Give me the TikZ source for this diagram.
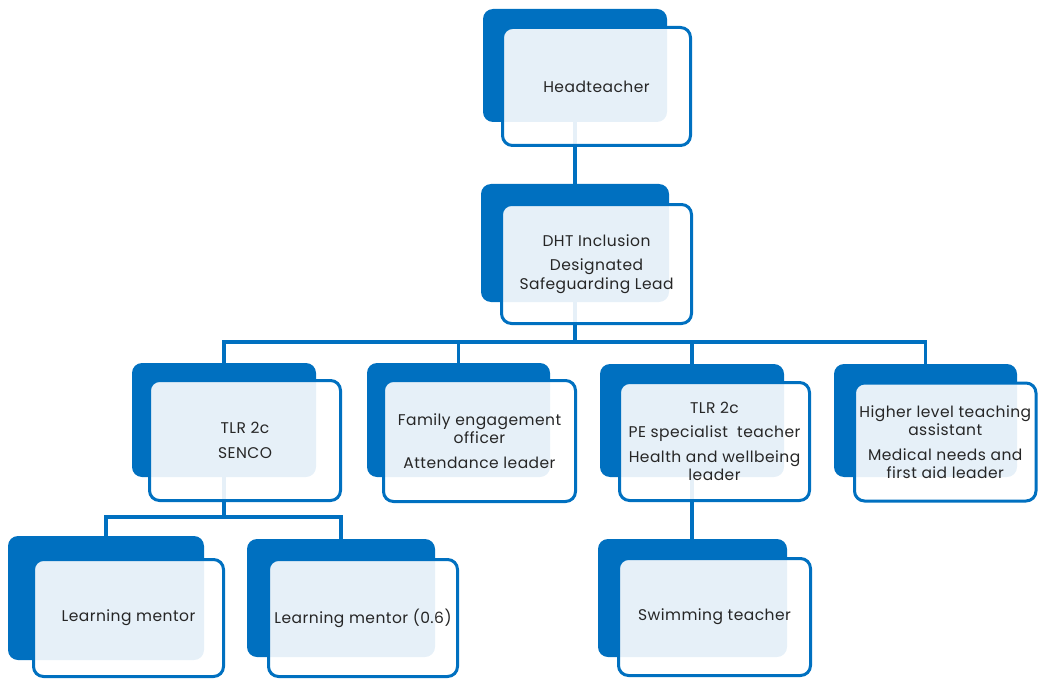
\documentclass[tikz,border=0pt]{standalone}
\usepackage{fontspec}
\setmainfont[LetterSpace=3]{Poppins}
\definecolor{orgblue}{HTML}{0070C0}
\definecolor{orgtext}{HTML}{262626}
\pgfdeclarelayer{links}
\pgfdeclarelayer{backs}
\pgfsetlayers{links,backs,main}
\begin{document}
\begin{tikzpicture}[x=1pt,y=-1pt,
  backbox/.style={rectangle, fill=orgblue, rounded corners=10pt, inner sep=0pt, outer sep=0pt},
  frontbox/.style={rectangle, draw=orgblue, line width=3pt, fill=white, fill opacity=0.9,
    text opacity=1, rounded corners=10pt, inner sep=0pt, align=center, text=orgtext,
    font=\fontsize{15.5}{18.5}\selectfont},
  link/.style={draw=orgblue, line width=3.2pt}]
\useasboundingbox (0,0) rectangle (1038,679);

% dark back plates
\begin{pgfonlayer}{backs}
\node[backbox, minimum width=184pt, minimum height=113pt] (hB)  at (575,65.5) {};
\node[backbox, minimum width=188pt, minimum height=118pt] (dB)  at (575,243) {};
\node[backbox, minimum width=184pt, minimum height=114pt] (sB)  at (224,420) {};
\node[backbox, minimum width=183pt, minimum height=114pt] (fB)  at (458.5,420) {};
\node[backbox, minimum width=184pt, minimum height=113pt] (pB)  at (692,420.5) {};
\node[backbox, minimum width=183pt, minimum height=113pt] (gB)  at (925.5,420.5) {};
\node[backbox, minimum width=196pt, minimum height=124pt] (lB)  at (106,598) {};
\node[backbox, minimum width=188pt, minimum height=118pt] (mB)  at (341,598) {};
\node[backbox, minimum width=189pt, minimum height=118pt] (wB)  at (692.5,598) {};
\end{pgfonlayer}

% translucent front cards with the role texts
\node[frontbox, minimum width=188pt, minimum height=118pt] (hF) at (596.5,86.5) {Headteacher};
\node[frontbox, minimum width=190pt, minimum height=119pt] (dF) at (596.5,264)
  {DHT Inclusion\\[6pt]Designated\\Safeguarding Lead};
\node[frontbox, minimum width=191pt, minimum height=120pt] (sF) at (245,440.5)
  {TLR 2c\\[6pt]SENCO};
\node[frontbox, minimum width=192pt, minimum height=121pt] (fF) at (479.5,441)
  {Family engagement\\officer\\[6pt]Attendance leader};
\node[frontbox, minimum width=190pt, minimum height=118pt] (pF) at (714.5,441.5)
  {TLR 2c\\[6pt]PE specialist~ teacher\\[6pt]Health and wellbeing\\leader};
\node[frontbox, minimum width=181.5pt, minimum height=118pt] (gF) at (945.25,442)
  {Higher level teaching\\assistant\\[6pt]Medical needs and\\first aid leader};
\node[frontbox, minimum width=190pt, minimum height=117pt] (lF) at (128.5,618) {Learning mentor};
\node[frontbox, minimum width=189pt, minimum height=117pt] (mF) at (363,618) {Learning mentor (0.6)};
\node[frontbox, minimum width=192pt, minimum height=117pt] (wF) at (714.5,617) {Swimming teacher};

% reporting lines
\begin{pgfonlayer}{links}
\coordinate (busA) at (575,342);
\coordinate (busB) at (224,517);
\draw[link] (hB.south) -- (dB.north);
\draw[link] (dB.south) -- (busA);
\draw[link] (sB.north) |- (busA);
\draw[link] (fB.north) |- (busA);
\draw[link] (pB.north) |- (busA);
\draw[link] (gB.north) |- (busA);
\draw[link] (sB.south) -- (busB);
\draw[link] (lB.north) |- (busB);
\draw[link] (mB.north) |- (busB);
\draw[link] (pB.south) -- (pB.south |- wB.north);
\end{pgfonlayer}
\end{tikzpicture}
\end{document}
